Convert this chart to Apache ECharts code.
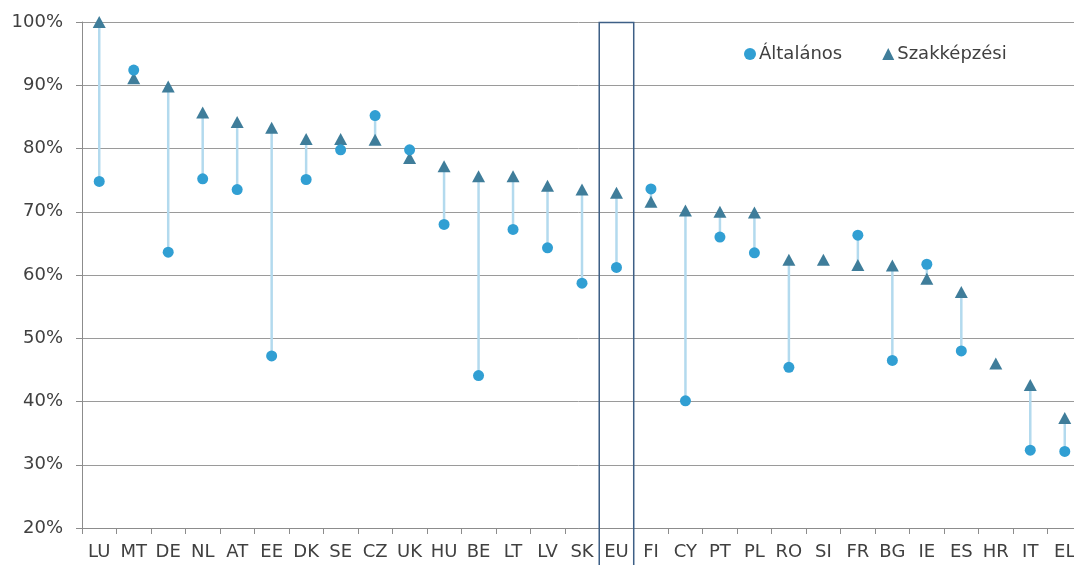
<!DOCTYPE html>
<html><head><meta charset="utf-8">
<script src="https://cdn.jsdelivr.net/npm/echarts@6/dist/echarts.min.js"></script>
<style>html,body{margin:0;padding:0;background:#fff}#c{width:1074px;height:565px}</style>
</head><body><div id="c"></div>
<script>
const categories = ['LU','MT','DE','NL','AT','EE','DK','SE','CZ','UK','HU','BE','LT','LV','SK','EU','FI','CY','PT','PL','RO','SI','FR','BG','IE','ES','HR','IT','EL'];
const altalanos = [74.8,92.4,63.6,75.2,73.5,47.2,75.1,79.8,85.2,79.8,68.0,44.1,67.2,64.3,58.7,61.2,73.6,40.1,66.0,63.5,45.4,null,66.3,46.5,61.7,48.0,null,32.3,32.1];
const szakkepzesi = [100,91.1,89.8,85.7,84.2,83.3,81.5,81.5,81.4,78.5,77.2,75.6,75.6,74.1,73.5,73.0,71.6,70.2,70.0,69.9,62.4,62.4,61.6,61.5,59.4,57.3,46.0,42.6,37.4];
const yTicks = [20,30,40,50,60,70,80,90,100];
const highlight = 'EU';

const font = '"DejaVu Sans", Verdana, sans-serif';
const txt = '#404040';
const connectData = categories.map((c,i)=>[i, altalanos[i], szakkepzesi[i]]).filter(d=>d[1]!=null && d[2]!=null);

const chart = echarts.init(document.getElementById('c'));
chart.setOption({
  animation:false,
  grid:{left:82, width:1000, top:22, bottom:37, containLabel:false, outerBoundsMode:'none'},
  legend:{
    left:739, top:40, itemWidth:12, itemHeight:12, itemGap:40,
    textStyle:{fontFamily:font, fontSize:18, color:txt, padding:[0,0,0,-2]},
    data:['Általános','Szakképzési']
  },
  xAxis:{
    type:'category', data:categories, boundaryGap:true,
    axisLine:{lineStyle:{color:'#8c8c8c', width:1}},
    axisTick:{show:true, length:6, lineStyle:{color:'#8c8c8c'}},
    axisLabel:{fontFamily:font, fontSize:18, color:txt, margin:15, interval:0}
  },
  yAxis:{
    type:'value', min:yTicks[0], max:yTicks[yTicks.length-1], interval:10,
    axisLine:{show:true, lineStyle:{color:'#8c8c8c'}},
    axisTick:{show:true, length:6, lineStyle:{color:'#8c8c8c'}},
    axisLabel:{fontFamily:font, fontSize:18, color:txt, margin:19, formatter:'{value}%'},
    splitLine:{lineStyle:{color:'#9a9a9a', width:1}}
  },
  series:[
    {
      type:'custom', name:'conn', silent:true, z:1,
      data:connectData,
      encode:{x:0, y:[1,2]},
      renderItem:function(params, api){
        const a = api.coord([api.value(0), api.value(1)]);
        const b = api.coord([api.value(0), api.value(2)]);
        return {type:'line', shape:{x1:a[0], y1:a[1], x2:b[0], y2:b[1]}, style:{stroke:'#b3daee', lineWidth:2.5}};
      }
    },
    {
      type:'custom', name:'box', silent:true, z:5, clip:false,
      data:[[categories.indexOf(highlight), yTicks[yTicks.length-1]]],
      renderItem:function(params, api){
        const p = api.coord([api.value(0), api.value(1)]);
        const w = api.size([1,0])[0];
        return {type:'rect', shape:{x:p[0]-w/2, y:p[1]+0.5, width:w, height:600}, style:{fill:'none', stroke:'#3d5f86', lineWidth:1.5}};
      }
    },
    {
      type:'scatter', name:'Szakképzési', symbol:'triangle', symbolSize:[13,12], z:3,
      itemStyle:{color:'#3f7d9a', opacity:1}, data:szakkepzesi
    },
    {
      type:'scatter', name:'Általános', symbol:'circle', symbolSize:11, z:4,
      itemStyle:{color:'#319fd3', opacity:1}, data:altalanos
    }
  ]
});
</script></body></html>
